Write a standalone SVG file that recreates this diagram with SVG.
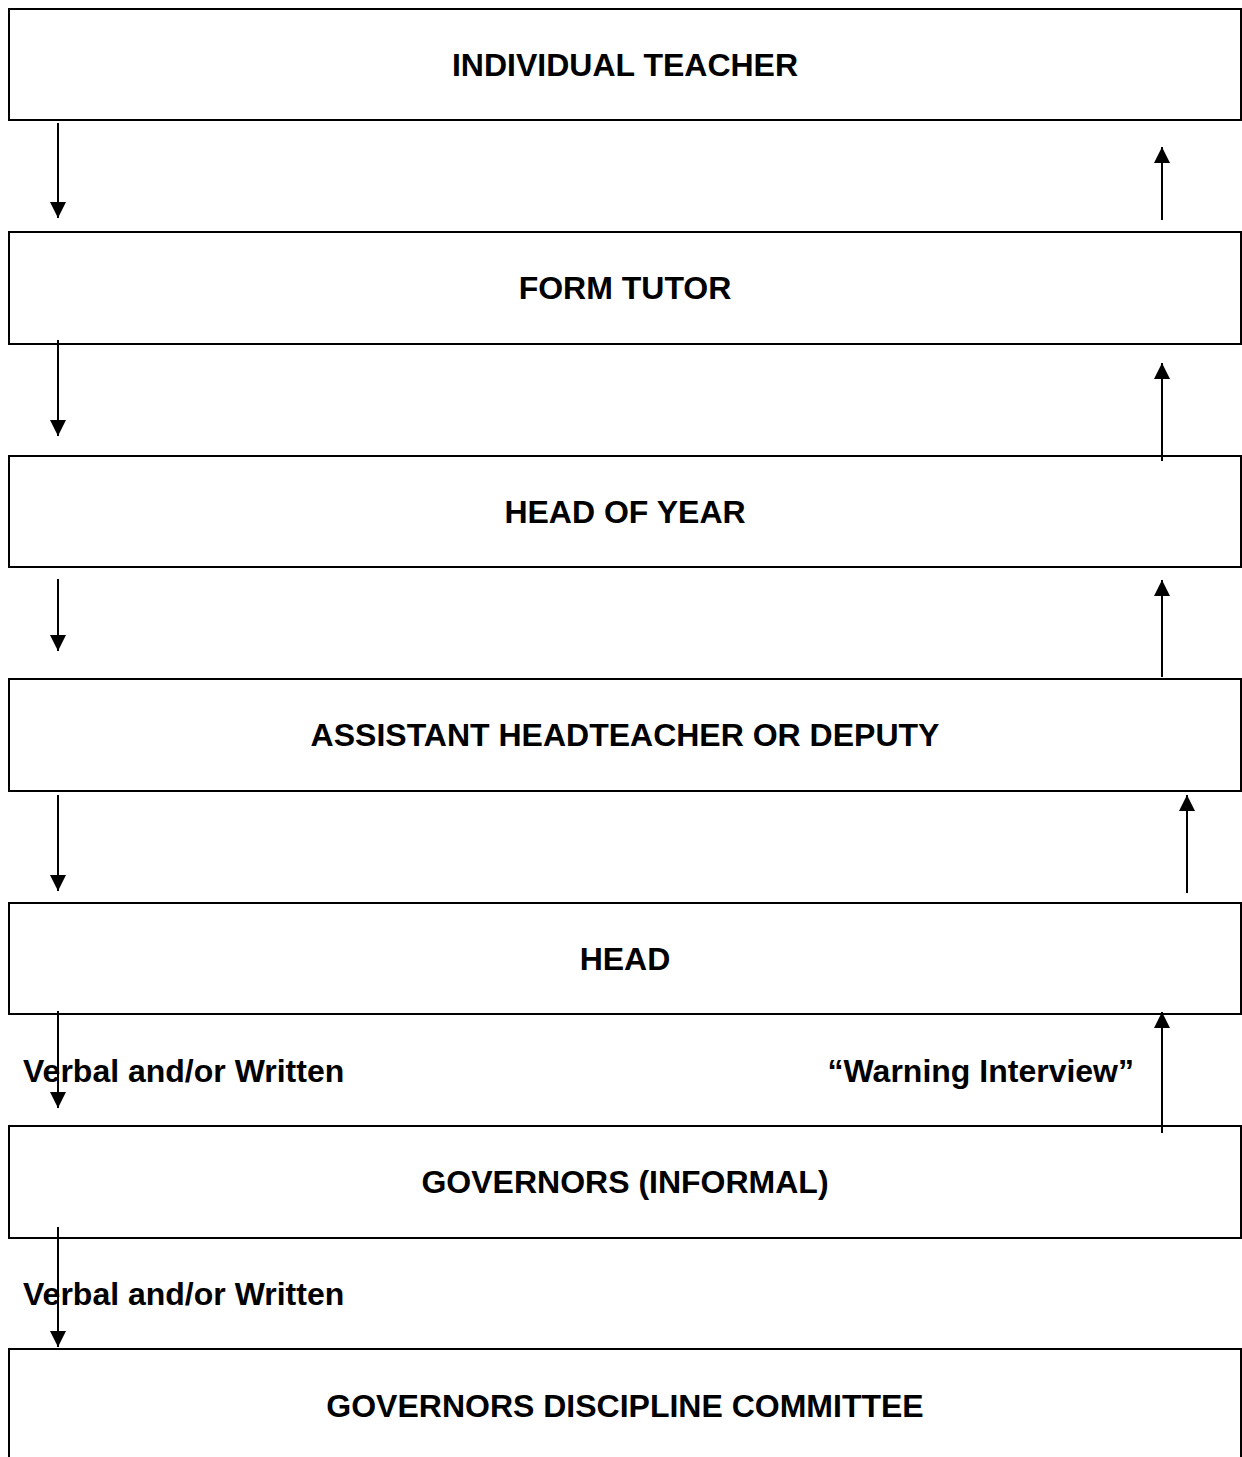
<svg xmlns="http://www.w3.org/2000/svg" width="1242" height="1457" viewBox="0 0 1242 1457">
<style>
.box{fill:#fff;stroke:#000;stroke-width:2}
.t{font-family:"Liberation Sans",Arial,sans-serif;font-weight:bold;font-size:32px;fill:#000}
.c{text-anchor:middle}
.a{stroke:#000;stroke-width:2;fill:none;marker-end:url(#ah)}
</style>
<defs>
<marker id="ah" markerUnits="userSpaceOnUse" markerWidth="16" markerHeight="16" refX="16" refY="8" orient="auto" viewBox="0 0 16 16">
<path d="M0,0 L16,8 L0,16 z" fill="#000"/>
</marker>
</defs>
<rect width="1242" height="1457" fill="#fff"/>
<g id="n1"><rect class="box" x="9" y="9" width="1232" height="111"/><text class="t c" x="625" y="76">INDIVIDUAL TEACHER</text></g>
<g id="n2"><rect class="box" x="9" y="232" width="1232" height="112"/><text class="t c" x="625" y="299">FORM TUTOR</text></g>
<g id="n3"><rect class="box" x="9" y="456" width="1232" height="111"/><text class="t c" x="625" y="523">HEAD OF YEAR</text></g>
<g id="n4"><rect class="box" x="9" y="679" width="1232" height="112"/><text class="t c" x="625" y="746">ASSISTANT HEADTEACHER OR DEPUTY</text></g>
<g id="n5"><rect class="box" x="9" y="903" width="1232" height="111"/><text class="t c" x="625" y="970">HEAD</text></g>
<g id="n6"><rect class="box" x="9" y="1126" width="1232" height="112"/><text class="t c" x="625" y="1193">GOVERNORS (INFORMAL)</text></g>
<g id="n7"><rect class="box" x="9" y="1349" width="1232" height="130"/><text class="t c" x="625" y="1417">GOVERNORS DISCIPLINE COMMITTEE</text></g>
<g id="connectors">
<line class="a" x1="58" y1="123" x2="58" y2="218"/>
<line class="a" x1="58" y1="340" x2="58" y2="436"/>
<line class="a" x1="58" y1="579" x2="58" y2="651"/>
<line class="a" x1="58" y1="795" x2="58" y2="891"/>
<line class="a" x1="58" y1="1011" x2="58" y2="1108"/>
<line class="a" x1="58" y1="1227" x2="58" y2="1347"/>
<line class="a" x1="1162" y1="220" x2="1162" y2="147"/>
<line class="a" x1="1162" y1="461" x2="1162" y2="363"/>
<line class="a" x1="1162" y1="677" x2="1162" y2="580"/>
<line class="a" x1="1187" y1="893" x2="1187" y2="795"/>
<line class="a" x1="1162" y1="1133" x2="1162" y2="1012"/>
</g>
<text class="t" x="23" y="1082">Verbal and/or Written</text>
<text class="t" x="1134" y="1082" text-anchor="end">“Warning Interview”</text>
<text class="t" x="23" y="1305">Verbal and/or Written</text>
</svg>
